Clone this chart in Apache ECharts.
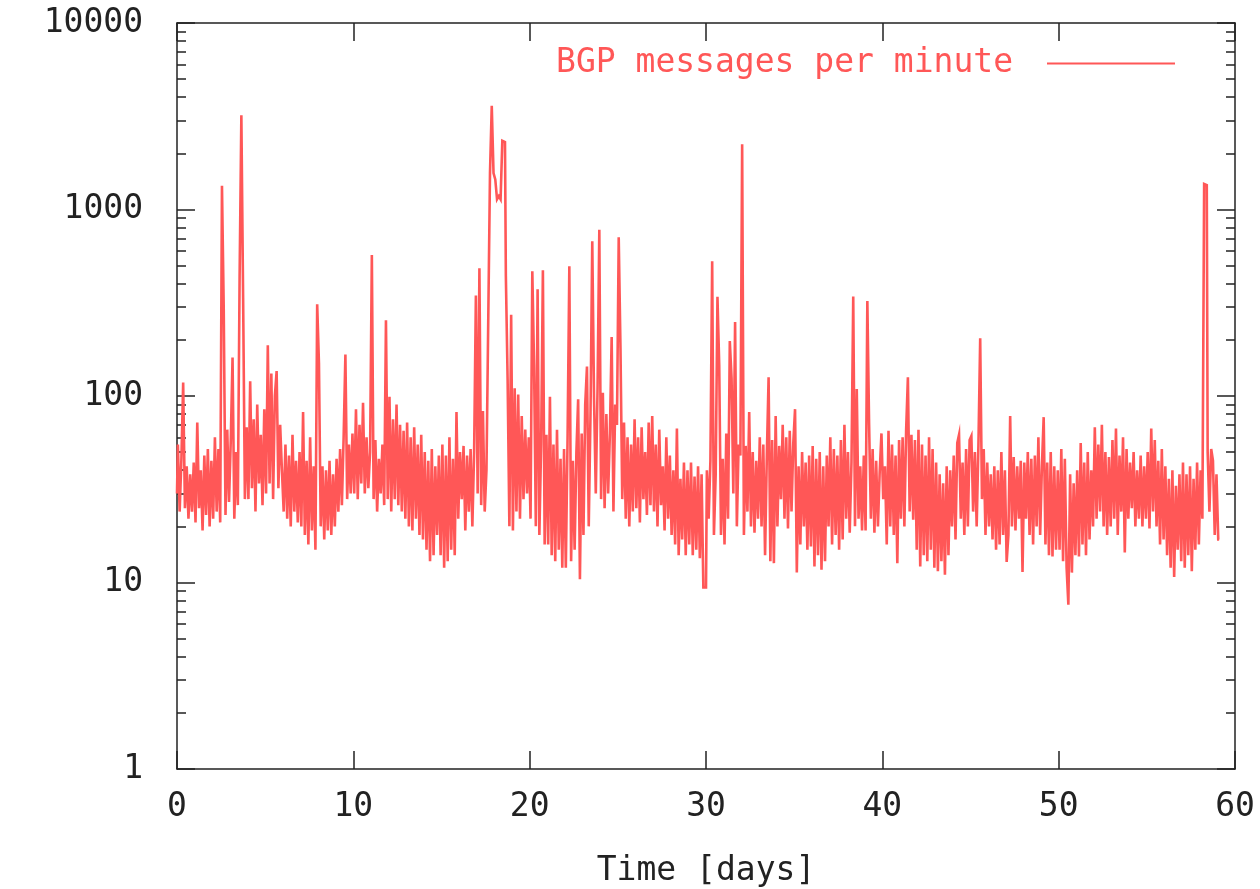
<!DOCTYPE html>
<html>
<head>
<meta charset="utf-8">
<script src="https://cdn.jsdelivr.net/npm/echarts@6/dist/echarts.min.js"></script>
<style>
html,body{margin:0;padding:0;background:#fff;}
#chart{width:1260px;height:889px;}
</style>
</head>
<body>
<div id="chart"></div>
<script>
// BGP messages per minute, one reading every 0.1 day
var sampleStepDays = 0.1;
var msgDays00to10 = [
  30,55,24,46,118,25,42,22,38,24,
  44,21,72,25,40,19,48,23,52,20,
  45,22,60,24,52,21,1340,295,23,66,
  27,58,161,22,50,26,433,3200,334,28,
  68,28,120,32,75,24,90,34,62,26,
  85,30,187,34,132,28,100,136,32,70,
  40,24,55,22,48,20,62,24,45,21,
  50,20,82,18,45,16,60,19,42,15,
  310,150,20,42,17,40,19,45,18,38,
  20,46,24,52,26,60,167,28,55,30
];
var msgDays10to20 = [
  63,30,85,28,70,34,92,30,60,32,
  50,570,28,58,24,46,30,55,26,255,
  28,99,24,75,28,90,26,70,24,65,
  22,72,20,60,19,68,22,55,18,62,
  17,50,15,45,13,52,14,42,18,48,
  14,55,12,48,13,60,15,46,14,82,
  22,50,28,54,19,48,24,52,20,50,
  346,30,484,26,83,24,40,249,1567,3600,
  1567,1450,1135,1180,1135,2335,2300,440,122,20,
  273,19,110,24,102,22,78,28,66,30
];
var msgDays20to30 = [
  60,22,466,146,20,373,18,55,473,16,
  62,16,99,14,55,13,66,15,46,12,
  52,12,60,496,13,45,15,50,96,10.4,
  63,18,90,144,20,80,676,97,30,110,
  779,28,104,25,80,30,63,207,24,90,
  70,710,180,28,72,22,60,20,55,24,
  75,25,60,21,68,28,50,23,72,26,
  78,24,55,20,66,26,42,19,60,22,
  48,18,40,16,67,14,36,17,44,14,
  40,16,44,14,37,15,42,13.5,38,9.4
];
var msgDays30to40 = [
  9.4,40,22,45,528,18,38,340,145,18,
  46,16,63,22,197,124,30,249,20,55,
  48,2240,18,54,24,82,20,50,18.5,45,
  22,60,20,55,14,48,126,13,58,12.7,
  78,20,54,28,70,22,60,19.5,65,24,
  56,85,11.3,42,16,50,20,44,15,48,
  15.6,54,12.2,46,14,50,11.7,42,13,48,
  20,60,16,52,18,48,15,58,17,70,
  22,50,18.5,44,342,20,109,22,42,19,
  48,19,323,70,22,52,18.5,45,20,39
];
var msgDays40to50 = [
  63,28,42,16,65,20,55,18,48,12.7,
  58,22,60,20,66,126,24,62,21.7,58,
  15,66,12.2,55,14,48,13,60,15,52,
  12,44,11.5,38,13,34,11,42,14,40,
  20,48,17,56,62,22,44,18,52,20,
  58,61,24,50,20,55,204,28,52,18,
  44,20,38,17,42,15,40,16,50,18,
  40,12.9,18,78,20,47,19,42,22,45,
  11.4,44,22,50,18,46,16,48,20,60,
  18,42,77,16,44,14,50,13.8,42,15
];
var msgDays50to60 = [
  40,15,52,13,46,12,7.6,38,11.3,34,
  14,40,13.8,56,16,44,14,50,17,40,
  20,68,22,55,24,70,20,50,18,47,
  20,58,22,67,18,48,24,60,14.5,52,
  22,44,25,50,20,40,22,48,20,42,
  22,50,19.5,67,24,58,20,45,16,52,
  17,42,14,36,12,40,10.7,33,15,38,
  13,44,12,38,14,42,11.5,36,15,44,
  16,40,22,1370,1350,50,24,52,45,18,
  38,17
];
var yMajorTicks = [1, 10, 100, 1000, 10000];
var yMinorTicks = [];
[1, 10, 100, 1000].forEach(function (d) {
  for (var k = 2; k <= 9; k++) yMinorTicks.push(k * d);
});
var seriesName = 'BGP messages per minute';
var xTitle = 'Time [days]';

var allValues = [].concat(msgDays00to10, msgDays10to20, msgDays20to30, msgDays30to40, msgDays40to50, msgDays50to60);
var points = allValues.map(function (v, i) { return [+(i * sampleStepDays).toFixed(2), v]; });

var RED = '#ff5757';
var INK = '#222222';
var FONT = '"DejaVu Sans Mono", "Liberation Mono", monospace';

function yAxisDef(pos, major) {
  return {
    type: 'log', logBase: 10, min: 1, max: 10000, position: pos,
    axisLine: { show: major, lineStyle: { color: INK, width: 1.5 } },
    axisTick: major
      ? { show: true, inside: true, length: 18, customValues: yMajorTicks, lineStyle: { color: INK, width: 1.5 } }
      : { show: true, inside: true, length: 9, customValues: yMinorTicks, lineStyle: { color: INK, width: 1.5 } },
    axisLabel: (major && pos === 'left')
      ? { show: true, margin: 34, customValues: yMajorTicks, color: INK, fontFamily: FONT, fontSize: 33,
          formatter: function (v) { return String(Math.round(v)); } }
      : { show: false },
    splitLine: { show: false },
    minorTick: { show: false },
    minorSplitLine: { show: false }
  };
}

var chart = echarts.init(document.getElementById('chart'), null, { renderer: 'canvas' });
chart.setOption({
  animation: false,
  backgroundColor: '#ffffff',
  grid: { left: 177, right: 25, top: 23, bottom: 120, containLabel: false, outerBoundsMode: 'none' },
  legend: {
    show: true,
    data: [seriesName],
    right: 80, top: 42,
    align: 'right',
    icon: 'rect',
    itemWidth: 128, itemHeight: 2,
    itemStyle: { color: RED },
    textStyle: { color: RED, fontFamily: FONT, fontSize: 33, padding: [0, 29, 0, 0] }
  },
  xAxis: [
    {
      type: 'value', min: 0, max: 60, interval: 10, position: 'bottom',
      name: xTitle, nameLocation: 'middle', nameGap: 86,
      nameTextStyle: { color: INK, fontFamily: FONT, fontSize: 33 },
      axisLine: { show: true, lineStyle: { color: INK, width: 1.5 } },
      axisTick: { show: true, inside: true, length: 18, lineStyle: { color: INK, width: 1.5 } },
      axisLabel: { show: true, margin: 22, color: INK, fontFamily: FONT, fontSize: 33 },
      splitLine: { show: false }
    },
    {
      type: 'value', min: 0, max: 60, interval: 10, position: 'top',
      axisLine: { show: true, lineStyle: { color: INK, width: 1.5 } },
      axisTick: { show: true, inside: true, length: 18, lineStyle: { color: INK, width: 1.5 } },
      axisLabel: { show: false },
      splitLine: { show: false }
    }
  ],
  yAxis: [
    yAxisDef('left', true),
    yAxisDef('left', false),
    yAxisDef('right', true),
    yAxisDef('right', false)
  ],
  series: [
    {
      name: seriesName,
      type: 'line',
      step: 'middle',
      xAxisIndex: 0, yAxisIndex: 0,
      data: points,
      showSymbol: false,
      symbol: 'none',
      sampling: null,
      lineStyle: { color: RED, width: 2.6, join: 'miter', cap: 'butt' },
      itemStyle: { color: RED },
      emphasis: { disabled: true }
    }
  ]
});
</script>
</body>
</html>
